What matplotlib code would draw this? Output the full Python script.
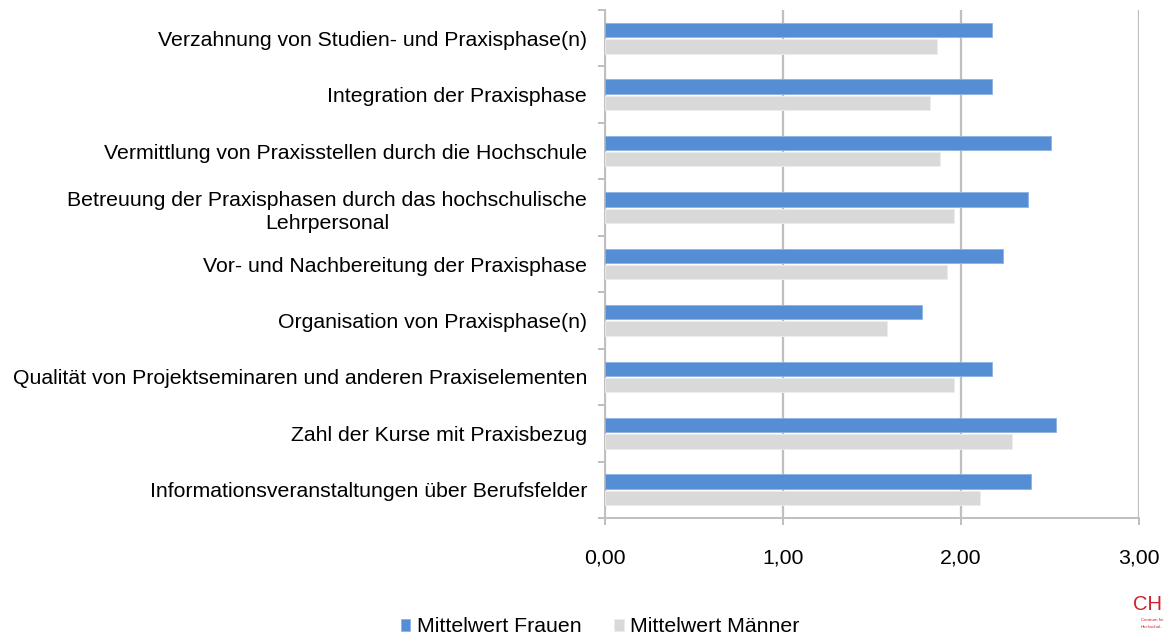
import matplotlib
matplotlib.use("Agg")
import matplotlib.pyplot as plt
import numpy as np

categories = [
    "Verzahnung von Studien- und Praxisphase(n)",
    "Integration der Praxisphase",
    "Vermittlung von Praxisstellen durch die Hochschule",
    "Betreuung der Praxisphasen durch das hochschulische\nLehrpersonal",
    "Vor- und Nachbereitung der Praxisphase",
    "Organisation von Praxisphase(n)",
    "Qualität von Projektseminaren und anderen Praxiselementen",
    "Zahl der Kurse mit Praxisbezug",
    "Informationsveranstaltungen über Berufsfelder",
]
frauen = [2.175, 2.175, 2.507, 2.374, 2.235, 1.783, 2.175, 2.536, 2.395]
maenner = [1.864, 1.825, 1.883, 1.963, 1.922, 1.584, 1.963, 2.285, 2.105]
xticks = [0, 1, 2, 3]
xticklabels = ["0,00", "1,00", "2,00", "3,00"]

plt.rcParams['font.family'] = ['Liberation Sans', 'DejaVu Sans']
FS = 15.3

fig = plt.figure(figsize=(11.64, 6.36), dpi=100)
ax = fig.add_axes([605/1164, 1 - 518/636, (1139-605)/1164, (518-10)/636])

y = np.arange(len(categories))
h = 0.255
off = 0.145
ax.barh(y - off, frauen, height=h, color='#558ED5', edgecolor='#8DB3E2', linewidth=0.6, zorder=3, label='Mittelwert Frauen')
ax.barh(y + off, maenner, height=h, color='#D9D9D9', edgecolor='#EDEDED', linewidth=0.6, zorder=3, label='Mittelwert Männer')

ax.set_xlim(0, 3)
ax.set_ylim(len(categories) - 0.5, -0.5)
ax.set_xticks(xticks)
ax.set_xticklabels(xticklabels, fontsize=FS)
ax.set_yticks(y)
ax.set_yticklabels(categories, fontsize=FS, multialignment='center', linespacing=1.3)
ax.set_yticks(np.arange(-0.5, len(categories), 1), minor=True)
ax.tick_params(axis='y', which='major', length=0, pad=13)
ax.tick_params(axis='y', which='minor', length=5, color='#BFBFBF', width=1.4)
ax.tick_params(axis='x', length=5, color='#BFBFBF', width=1.4, pad=17, direction='out')

ax.grid(axis='x', color='#BFBFBF', linewidth=1.6, zorder=0)
for s in ['top', 'right']:
    ax.spines[s].set_visible(False)
for s in ['left', 'bottom']:
    ax.spines[s].set_color('#BFBFBF')
    ax.spines[s].set_linewidth(1.4)

fig.legend(loc='center', bbox_to_anchor=(600/1164, 1 - 627/636), ncol=2, frameon=False,
           fontsize=FS, handlelength=0.45, handleheight=0.45, handletextpad=0.3,
           columnspacing=1.55, borderpad=0.1)

fig.text(1162/1164, 1 - 604/636, "CH", color='#D0202E', fontsize=14.5, ha='right', va='center')
fig.text(1141/1164, 1 - 620/636, "Centrum für", color='#D0202E', fontsize=3.2, ha='left', va='center')
fig.text(1141/1164, 1 - 627/636, "Hochschul-", color='#D0202E', fontsize=3.2, ha='left', va='center')

fig.savefig("out.png", dpi=100)
